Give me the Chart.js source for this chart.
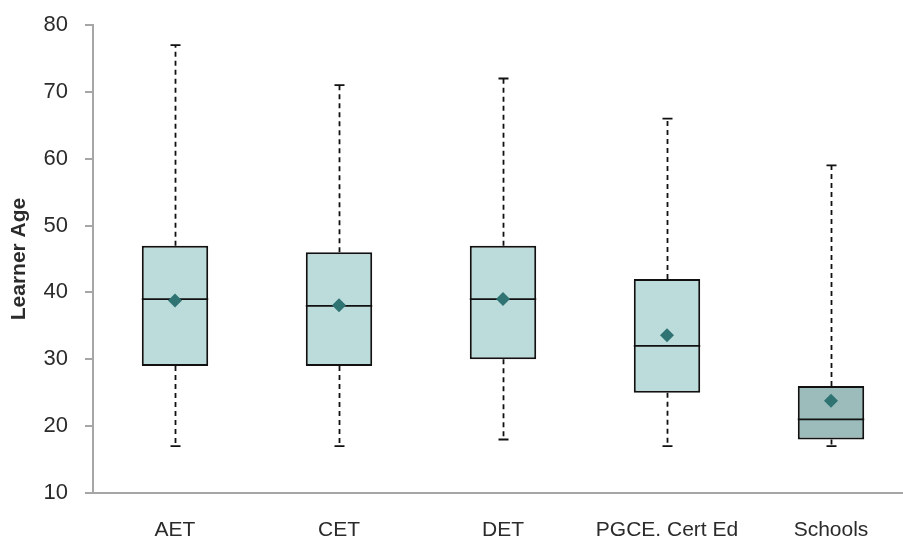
<!DOCTYPE html>
<html>
<head>
<meta charset="utf-8">
<title>Learner Age by Programme</title>
<script src="https://cdn.jsdelivr.net/npm/chart.js@4/dist/chart.umd.min.js"></script>
<style>
  html, body { margin: 0; padding: 0; background: #ffffff; overflow: hidden; }
  #chart { position: absolute; left: 0; top: 0; }
</style>
</head>
<body>
<canvas id="chart" width="913" height="537"></canvas>
<script>
// Programme groups and the five-number summaries of learner age
const categories = ['AET', 'CET', 'DET', 'PGCE. Cert Ed', 'Schools'];
const minAge    = [17, 17, 18, 17, 17];
const q1Age     = [29, 29, 30, 25, 18];
const medianAge = [39, 38, 39, 32, 21];
const q3Age     = [47, 46, 47, 42, 26];
const maxAge    = [77, 71, 72, 66, 59];
const meanAge   = [38.8, 38.1, 39.0, 33.6, 23.8];
const yTicks    = [10, 20, 30, 40, 50, 60, 70, 80];

const boxFill = ['#bcdcdb', '#bcdcdb', '#bcdcdb', '#bcdcdb', '#9bbcbb'];
const lineColor = '#111111';
const axisColor = '#a6a6a6';
const textColor = '#2b2b2b';
const fontFamily = '"Liberation Sans", Arial, sans-serif';

// Whiskers, caps and median lines drawn with the chart's own scales
const boxExtras = {
  id: 'boxExtras',
  beforeDatasetsDraw(chart) {
    const ctx = chart.ctx;
    const y = chart.scales.y;
    const meta = chart.getDatasetMeta(0);
    ctx.save();
    ctx.strokeStyle = lineColor;
    ctx.lineWidth = 1.8;
    meta.data.forEach((bar, i) => {
      const x = Math.round(bar.x) + 0.5;
      const yMax = y.getPixelForValue(maxAge[i]);
      const yQ3 = y.getPixelForValue(q3Age[i]);
      const yQ1 = y.getPixelForValue(q1Age[i]);
      const yMin = y.getPixelForValue(minAge[i]);
      ctx.setLineDash([5, 4]);
      ctx.beginPath();
      ctx.moveTo(x, yQ3); ctx.lineTo(x, yMax);
      ctx.moveTo(x, yQ1); ctx.lineTo(x, yMin);
      ctx.stroke();
      ctx.setLineDash([]);
      ctx.beginPath();
      ctx.moveTo(x - 5, yMax); ctx.lineTo(x + 5, yMax);
      ctx.moveTo(x - 5, yMin); ctx.lineTo(x + 5, yMin);
      ctx.stroke();
    });
    ctx.restore();
  },
  afterDatasetDraw(chart, args) {
    if (args.index !== 0) return;
    const ctx = chart.ctx;
    const y = chart.scales.y;
    ctx.save();
    ctx.strokeStyle = lineColor;
    ctx.lineWidth = 1.8;
    args.meta.data.forEach((bar, i) => {
      const half = bar.width / 2;
      const ym = y.getPixelForValue(medianAge[i]);
      ctx.beginPath();
      ctx.moveTo(bar.x - half, ym);
      ctx.lineTo(bar.x + half, ym);
      ctx.stroke();
    });
    ctx.restore();
  }
};

new Chart(document.getElementById('chart'), {
  type: 'bar',
  data: {
    labels: categories,
    datasets: [
      {
        label: 'Interquartile range',
        data: categories.map((_, i) => [q1Age[i], q3Age[i]]),
        backgroundColor: boxFill,
        borderColor: lineColor,
        borderWidth: 2,
        borderSkipped: false,
        categoryPercentage: 1,
        barPercentage: 0.405,
        order: 2
      },
      {
        type: 'line',
        label: 'Mean',
        data: meanAge,
        showLine: false,
        pointStyle: 'rectRot',
        pointRadius: 7,
        pointBackgroundColor: '#2f7373',
        pointBorderColor: '#2f7373',
        pointBorderWidth: 0,
        order: 1
      }
    ]
  },
  options: {
    responsive: false,
    maintainAspectRatio: false,
    animation: false,
    events: [],
    layout: { autoPadding: false, padding: { top: 25, right: 0, bottom: 0, left: 0 } },
    plugins: {
      legend: { display: false },
      tooltip: { enabled: false }
    },
    scales: {
      x: {
        grid: { display: false, drawTicks: false },
        border: { display: true, color: axisColor, width: 2 },
        ticks: {
          color: textColor,
          padding: 25,
          font: { family: fontFamily, size: 21 }
        },
        afterFit(scale) {
          scale.height = 44;
          scale.paddingLeft = 0;
          scale.paddingRight = 0;
        }
      },
      y: {
        min: 10,
        max: 80,
        afterBuildTicks(scale) { scale.ticks = yTicks.map(v => ({ value: v })); },
        grid: {
          display: true,
          drawOnChartArea: false,
          drawTicks: true,
          tickLength: 8,
          color: axisColor,
          lineWidth: 2
        },
        border: { display: true, color: axisColor, width: 2 },
        ticks: {
          color: textColor,
          padding: 17,
          font: { family: fontFamily, size: 22 }
        },
        title: {
          display: true,
          text: 'Learner Age',
          color: textColor,
          padding: { top: 7, bottom: 0 },
          font: { family: fontFamily, size: 21, weight: 'bold' }
        },
        afterFit(scale) {
          scale.width = 93;
          scale.paddingTop = 0;
          scale.paddingBottom = 0;
        }
      }
    }
  },
  plugins: [boxExtras]
});
</script>
</body>
</html>
